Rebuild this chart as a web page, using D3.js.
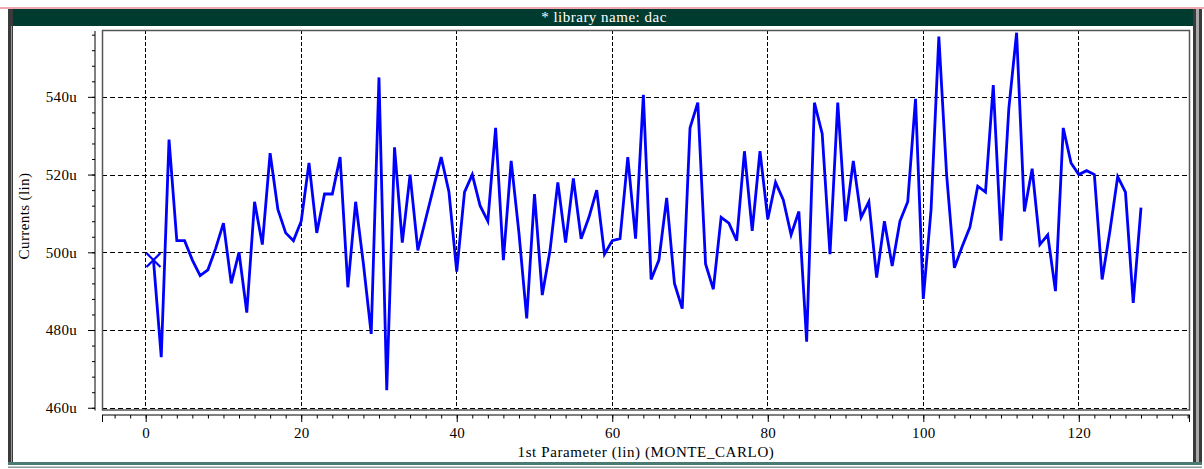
<!DOCTYPE html>
<html><head><meta charset="utf-8">
<script src="https://cdn.jsdelivr.net/npm/d3@7"></script>
<style>body{margin:0;background:#fff}svg{display:block}text{font-family:"Liberation Serif","Times New Roman",serif}</style>
</head><body><svg id="c" width="1204" height="469"></svg>
<script>
const title = "* library name: dac";
const yLabel = "Currents (lin)";
const xLabel = "1st Parameter (lin) (MONTE_CARLO)";
const xTicks = [0, 20, 40, 60, 80, 100, 120];
const yTicks = [460, 480, 500, 520, 540];
const yTickLabels = ["460u", "480u", "500u", "520u", "540u"];
const runs = d3.range(1, 129);
const currents = [
498,473,529,503,503,498,494,495.5,501,507.5,
492,500,484.5,513,502,525.5,511,505,503,508,
523,505,515,515,524.5,491,513,497,479,545,
464.5,527,502.5,520,500.5,508.5,516.5,524.5,515.5,495,
515.5,520,512,508,532,498,523.5,505,483,515,
489,500.5,518,502.5,519,503.5,509,516,499.5,503,
503.5,524.5,503.5,540.5,493,498,514,492,485.5,532,
538.5,497,490.5,509,507.5,503,526,505.5,526,508.5,
518,513.5,504.5,510.5,477,538.5,530.5,499.5,538.5,508,
523.5,509,513,493.5,508,496.5,508,513,539.5,488,
511,555.5,520,496,501.5,506.5,517,515.5,543,503,
537,556.5,510.5,521.5,502,504.5,490,532,523,520,
521,520,493,505.5,519.5,515.5,487,511.5];
const data = runs.map((r,i)=>({x:r,y:currents[i]}));

const svg = d3.select("#c");
const L=102, R=1190, T=30, B=409.5;
const x = d3.scaleLinear().domain([-5.62,134.3]).range([L,R]);
const y = d3.scaleLinear().domain([459.55,557.2]).range([B,T]);

// window decorations
svg.append("rect").attr("x",0).attr("y",7).attr("width",1204).attr("height",2).attr("fill","#f0a8b0");
svg.append("rect").attr("x",13).attr("y",9).attr("width",1180).attr("height",17).attr("fill","#003b30");
svg.append("rect").attr("x",8).attr("y",9).attr("width",5).attr("height",454).attr("fill","#3a3a3a");
svg.append("rect").attr("x",11).attr("y",26).attr("width",1).attr("height",436).attr("fill","#9a9a9a");
svg.append("rect").attr("x",1193).attr("y",9).attr("width",3).attr("height",454).attr("fill","#3a3a3a");
svg.append("rect").attr("x",1196).attr("y",9).attr("width",3).attr("height",454).attr("fill","#a8a8a8");
svg.append("rect").attr("x",1199).attr("y",9).attr("width",3).attr("height",454).attr("fill","#3a3a3a");
svg.append("rect").attr("x",8).attr("y",462).attr("width",1194).attr("height",3).attr("fill","#4a7a72");
svg.append("rect").attr("x",8).attr("y",466.5).attr("width",1194).attr("height",1.5).attr("fill","#8a9a98");
svg.append("text").attr("x",604).attr("y",22).attr("text-anchor","middle").attr("fill","#fff").attr("font-size",15).attr("letter-spacing",0.5).text(title);

// grid
const g = svg.append("g");
g.selectAll(".vg").data(xTicks).join("line").attr("x1",d=>x(d)).attr("x2",d=>x(d)).attr("y1",T).attr("y2",B)
 .attr("stroke","#000").attr("stroke-width",1).attr("stroke-dasharray","4,2").attr("shape-rendering","crispEdges");
g.selectAll(".hg").data(yTicks).join("line").attr("y1",d=>Math.round(y(d))+0.5).attr("y2",d=>Math.round(y(d))+0.5).attr("x1",L).attr("x2",R)
 .attr("stroke","#000").attr("stroke-width",1).attr("stroke-dasharray","5,3");

// frame
svg.append("rect").attr("x",L+0.5).attr("y",T+0.5).attr("width",R-L-1).attr("height",B-T).attr("fill","none").attr("stroke","#555").attr("stroke-width",1.5);

// y axis
const ya = svg.append("g").attr("transform","translate(95,0)");
ya.call(d3.axisLeft(y).tickValues(d3.range(460,558,4)).tickSize(3).tickFormat(""));
ya.selectAll("line,path").attr("stroke","#000");
ya.select(".domain").attr("d",`M0,${T+1}V${B+1}`);
const ym = svg.append("g").attr("transform","translate(95,0)");
ym.call(d3.axisLeft(y).tickValues(yTicks).tickSize(7).tickPadding(11).tickFormat((d,i)=>yTickLabels[i]));
ym.select(".domain").remove();
ym.selectAll("line").attr("stroke","#000");
ym.selectAll("text").attr("font-size",15).attr("letter-spacing",0.3).attr("fill","#000").attr("font-family","Liberation Serif");

// x axis
const xa = svg.append("g").attr("transform","translate(0,415)");
xa.call(d3.axisBottom(x).tickValues(d3.range(-4,135,2)).tickSize(3.5).tickFormat(""));
xa.select(".domain").attr("d",`M${L},0H${R}`).attr("stroke","#000");
xa.selectAll("line").attr("stroke","#000");
const xm = svg.append("g").attr("transform","translate(0,415)");
xm.call(d3.axisBottom(x).tickValues(xTicks).tickSize(7).tickPadding(5));
xm.select(".domain").remove();
xm.selectAll("line").attr("stroke","#000");
xm.selectAll("text").attr("font-size",15).attr("letter-spacing",0.3).attr("fill","#000").attr("font-family","Liberation Serif");
svg.append("line").attr("x1",L+0.5).attr("x2",L+0.5).attr("y1",415).attr("y2",422).attr("stroke","#000");
svg.append("line").attr("x1",R-0.5).attr("x2",R-0.5).attr("y1",415).attr("y2",422).attr("stroke","#000");

svg.append("text").attr("x",646).attr("y",457).attr("text-anchor","middle").attr("font-size",15).attr("letter-spacing",0.6).text(xLabel);
svg.append("text").attr("transform","translate(29,216) rotate(-90)").attr("text-anchor","middle").attr("font-size",15).attr("letter-spacing",0.4).text(yLabel);

// data line
svg.append("path").datum(data).attr("fill","none").attr("stroke","#0000ff").attr("stroke-width",2.8).attr("stroke-linejoin","miter")
 .attr("d",d3.line().x(d=>x(d.x)).y(d=>y(d.y)));
// marker
const p0 = data[0];
svg.append("path").attr("d",`M${x(p0.x)-7},${y(p0.y)-7}L${x(p0.x)+7},${y(p0.y)+7}M${x(p0.x)-7},${y(p0.y)+7}L${x(p0.x)+7},${y(p0.y)-7}`)
 .attr("stroke","#0000ff").attr("stroke-width",2.2);
</script></body></html>
